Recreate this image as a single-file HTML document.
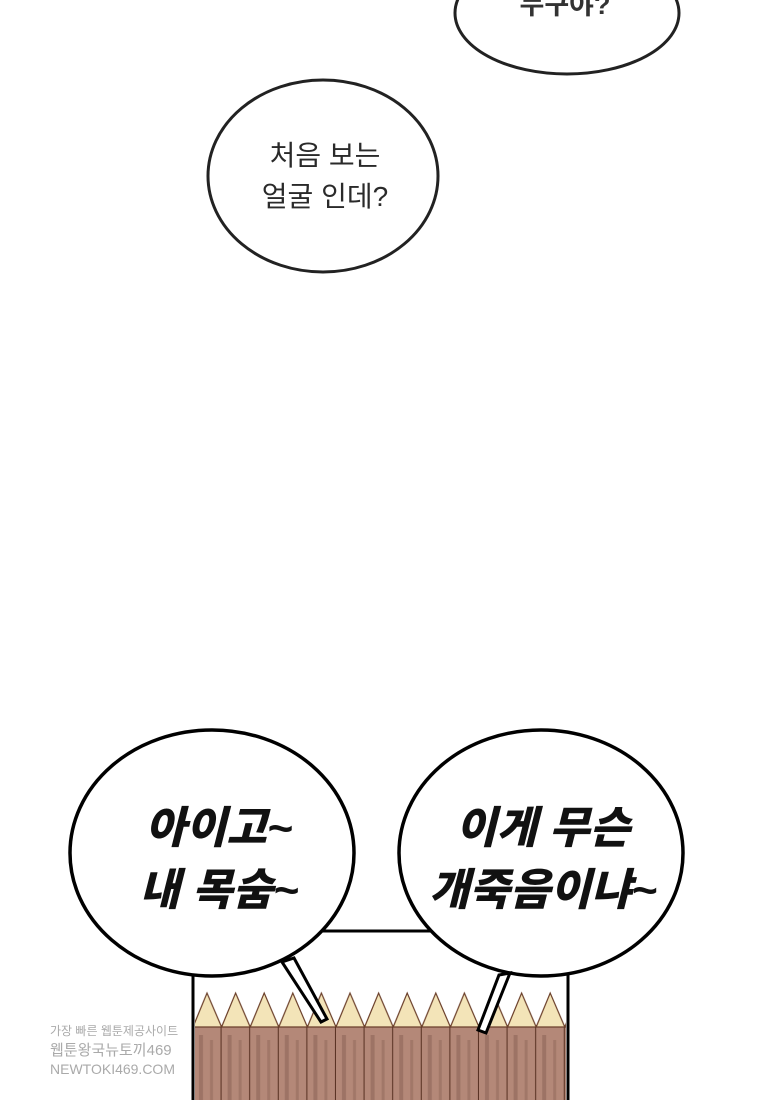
<!DOCTYPE html>
<html><head><meta charset="utf-8"><style>
html,body{margin:0;padding:0;background:#fff;}
body{width:760px;height:1100px;overflow:hidden;position:relative;font-family:"Liberation Sans","Noto Sans CJK KR",sans-serif;}
</style></head><body>
<svg width="760" height="1100" viewBox="0 0 760 1100" xmlns="http://www.w3.org/2000/svg">
<defs>
<pattern id="fence" x="193" y="0" width="28.6" height="1100" patternUnits="userSpaceOnUse">
<rect x="0" y="1025" width="28.6" height="80" fill="#b48878"/>
<polygon points="0,1027 14,993 28.6,1027" fill="#f3e4b8" stroke="#6b3f2a" stroke-width="1.2"/>
<rect x="6" y="1035" width="4" height="70" fill="#8d6558" opacity="0.6"/>
<rect x="17" y="1040" width="3" height="60" fill="#8d6558" opacity="0.5"/>
<line x1="28.3" y1="1027" x2="28.3" y2="1100" stroke="#5a3324" stroke-width="1.5"/>
</pattern>
</defs>
<rect x="193" y="931" width="375" height="175" fill="#fff" stroke="#000" stroke-width="3"/>
<rect x="195" y="990" width="371" height="112" fill="url(#fence)"/>
<line x1="193" y1="931" x2="193" y2="1100" stroke="#000" stroke-width="3"/>
<line x1="568" y1="931" x2="568" y2="1100" stroke="#000" stroke-width="3"/>

<ellipse cx="567" cy="13" rx="112" ry="61" fill="#fff" stroke="#222" stroke-width="3"/>
<text x="565" y="14" text-anchor="middle" font-size="27" font-weight="bold" fill="#333" font-family="Liberation Sans, Noto Sans CJK KR, sans-serif">누구야?</text>

<ellipse cx="323" cy="176" rx="115" ry="96" fill="#fff" stroke="#222" stroke-width="3"/>
<text x="325" y="165" text-anchor="middle" font-size="28" fill="#2a2a2a" font-family="Liberation Sans, Noto Sans CJK KR, sans-serif">처음 보는</text>
<text x="325" y="206" text-anchor="middle" font-size="28" fill="#2a2a2a" font-family="Liberation Sans, Noto Sans CJK KR, sans-serif">얼굴 인데?</text>

<ellipse cx="212" cy="853" rx="142" ry="123" fill="#fff" stroke="#000" stroke-width="3.5"/>
<ellipse cx="541" cy="853" rx="142" ry="123" fill="#fff" stroke="#000" stroke-width="3.5"/>
<polygon points="282,962 294,958 327,1019 321,1022" fill="#fff" stroke="#000" stroke-width="3"/>
<polygon points="499,975 510,973 486,1033 478,1030" fill="#fff" stroke="#000" stroke-width="3"/>
<g font-family="Liberation Sans, Noto Sans CJK KR, sans-serif" font-size="44" font-weight="900" font-style="italic" fill="#111" text-anchor="middle">
<text x="219" y="843">아이고~</text>
<text x="219" y="905">내 목숨~</text>
<text x="543" y="843">이게 무슨</text>
<text x="543" y="905">개죽음이냐~</text>
</g>
<g font-family="Liberation Sans, Noto Sans CJK KR, sans-serif" fill="#aaa" font-size="12">
<text x="50" y="1035">가장 빠른 웹툰제공사이트</text>
<text x="50" y="1055" font-size="15">웹툰왕국뉴토끼469</text>
<text x="50" y="1074" font-size="14">NEWTOKI469.COM</text>
</g>
</svg>
</body></html>
